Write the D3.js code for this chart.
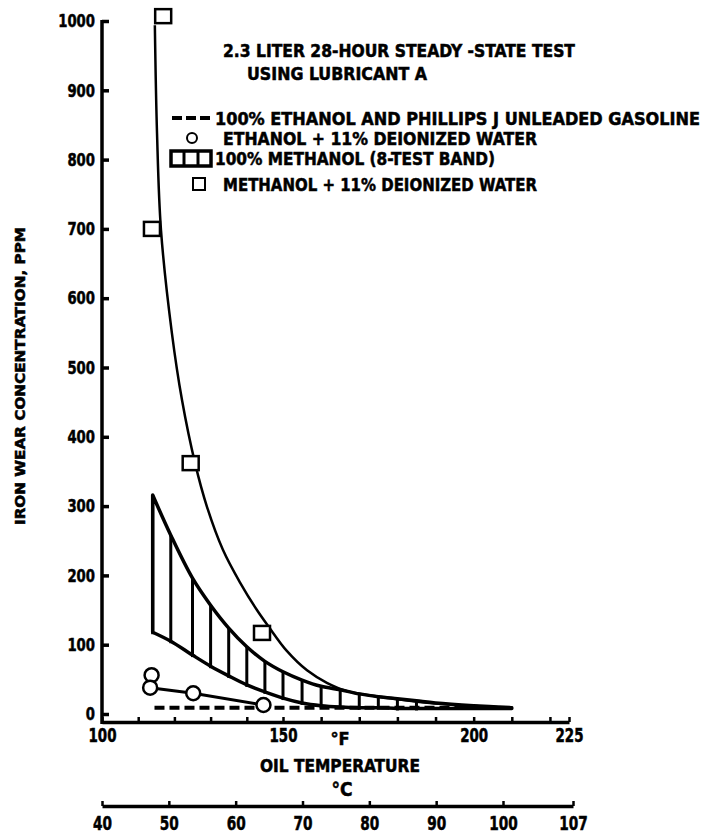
<!DOCTYPE html>
<html>
<head>
<meta charset="utf-8">
<script src="https://cdn.jsdelivr.net/npm/d3@7"></script>
<style>
  body { margin: 0; background: #fff; }
  svg text { font-family: "Liberation Sans Narrow", "DejaVu Sans Condensed", "Liberation Sans", sans-serif; font-weight: bold; fill: #000; stroke: #000; stroke-width: 0.5px; }
</style>
</head>
<body>
<div id="chart"></div>
<script>
// ticks
const yTicks = [0, 100, 200, 300, 400, 500, 600, 700, 800, 900, 1000];
const fTicks = [100, 110, 120, 130, 140, 150, 160, 170, 180, 190, 200, 210, 220, 225];
const fLabels = [100, 150, 200, 225];
const cTicks = [40, 50, 60, 70, 80, 90, 100, 107];

// methanol + 11% deionized water: measured points and the faired curve
const methWaterF = [116.9, 113.8, 124.5, 144.2];
const methWaterV = [1007, 700, 362, 117];
const methCurveF = [114.6, 115.2, 116.3, 119.3, 122.1, 125.7, 129, 133.4, 138.1, 142.8, 145.9, 151, 156.3, 161.5, 166.8, 175.4, 188.5, 210.3];
const methCurveV = [994, 838, 698, 550, 453, 362, 299, 237, 190, 150, 127, 91, 63, 45, 33, 25, 16, 9];

// 100% methanol 8-test band
const bandF = [114, 119, 125, 130, 135, 140, 145, 150, 155, 160, 165, 170, 175, 180, 185, 190, 200, 210];
const bandHigh = [316, 258, 196, 157, 124, 97, 76, 61, 49, 40, 35, 29, 25, 22, 19, 16, 12, 9];
const bandLow = [118, 105, 85, 69, 55, 42, 32, 23, 16, 12, 10, 9, 9, 8, 8, 8, 8, 8];

// ethanol + 11% deionized water
const ethWaterF = [113.7, 113.3, 125.2, 144.6];
const ethWaterV = [56, 38, 30, 13];

// 100% ethanol and Phillips J unleaded gasoline
const ethanolF = [114.5, 150, 180, 210];
const ethanolV = [9, 9, 9, 9];

const width = 704, height = 835;
const svg = d3.select("#chart").append("svg")
  .attr("width", width)
  .attr("height", height);
svg.append("rect").attr("width", width).attr("height", height).attr("fill", "#fff");

const x = d3.scaleLinear().domain([100, 150, 225]).range([102, 283, 569]);
const xC = d3.scaleLinear().domain([40, 100, 107]).range([102, 503, 573]);
const y = d3.scaleLinear().domain([0, 1000]).range([714, 21]);
const axisY = 722;

// Y axis
const gy = svg.append("g")
  .attr("transform", `translate(102,0)`)
  .call(d3.axisLeft(y).tickValues(yTicks).tickFormat(d3.format("d"))
    .tickSizeInner(-7).tickSizeOuter(0).tickPadding(7));
gy.select(".domain").remove();
gy.selectAll("line").attr("stroke", "#000").attr("stroke-width", 3.5);
gy.selectAll("text")
  .style("font-size", "18px")
  .attr("textLength", d => String(d).length * 9.2)
  .attr("lengthAdjust", "spacingAndGlyphs");
svg.append("line")
  .attr("x1", 102).attr("x2", 102)
  .attr("y1", y(1000) - 1).attr("y2", axisY + 2)
  .attr("stroke", "#000").attr("stroke-width", 3.5);

svg.append("text")
  .attr("transform", `translate(25,376) rotate(-90)`)
  .attr("text-anchor", "middle")
  .style("font-size", "14px")
  .attr("textLength", 298)
  .attr("lengthAdjust", "spacingAndGlyphs")
  .text("IRON WEAR CONCENTRATION, PPM");

// °F axis
const gx = svg.append("g")
  .attr("transform", `translate(0,${axisY})`)
  .call(d3.axisBottom(x).tickValues(fTicks).tickSizeInner(-5).tickSizeOuter(0).tickPadding(7)
    .tickFormat(d => fLabels.includes(d) ? d : ""));
gx.select(".domain").attr("stroke", "#000").attr("stroke-width", 3.5);
gx.selectAll("line").attr("stroke", "#000").attr("stroke-width", 2.5);
gx.selectAll("text")
  .style("font-size", "19px")
  .attr("textLength", d => fLabels.includes(d) ? 28 : null)
  .attr("lengthAdjust", "spacingAndGlyphs");

svg.append("text").attr("x", 340).attr("y", 745).attr("text-anchor", "middle")
  .style("font-size", "18px").text("°F");
svg.append("text").attr("x", 340).attr("y", 772).attr("text-anchor", "middle")
  .style("font-size", "18px")
  .attr("textLength", 160).attr("lengthAdjust", "spacingAndGlyphs")
  .text("OIL TEMPERATURE");
svg.append("text").attr("x", 342).attr("y", 796).attr("text-anchor", "middle")
  .style("font-size", "19px").text("°C");

// °C axis
const gc = svg.append("g")
  .attr("transform", `translate(0,806)`)
  .call(d3.axisBottom(xC).tickValues(cTicks).tickSizeInner(-5).tickSizeOuter(0).tickPadding(11));
gc.select(".domain").attr("stroke", "#000").attr("stroke-width", 3.5);
gc.selectAll("line").attr("stroke", "#000").attr("stroke-width", 2.5);
gc.selectAll("text")
  .style("font-size", "19px")
  .attr("textLength", d => String(d).length * 9.5)
  .attr("lengthAdjust", "spacingAndGlyphs");

// methanol band
const band = bandF.map((f, i) => ({ f, lo: bandLow[i], hi: bandHigh[i] }));
svg.append("path")
  .datum(band)
  .attr("fill", "none")
  .attr("stroke", "#000")
  .attr("stroke-width", 3.5)
  .attr("stroke-linejoin", "round")
  .attr("d", d3.area().x(d => x(d.f)).y0(d => y(d.lo)).y1(d => y(d.hi)).curve(d3.curveCatmullRom));

svg.selectAll("line.hatch")
  .data(band.filter(d => d.f <= 185))
  .enter().append("line")
  .attr("class", "hatch")
  .attr("x1", d => x(d.f)).attr("x2", d => x(d.f))
  .attr("y1", d => y(d.lo) + 2).attr("y2", d => y(d.hi))
  .attr("stroke", "#000").attr("stroke-width", 3);

// ethanol + gasoline dashed
svg.append("path")
  .datum(ethanolF.map((f, i) => [f, ethanolV[i]]))
  .attr("fill", "none")
  .attr("stroke", "#000")
  .attr("stroke-width", 4)
  .attr("stroke-dasharray", "10,5")
  .attr("d", d3.line().x(d => x(d[0])).y(d => y(d[1])));

// methanol + water curve
svg.append("path")
  .datum(methCurveF.map((f, i) => [f, methCurveV[i]]))
  .attr("fill", "none")
  .attr("stroke", "#000")
  .attr("stroke-width", 2.5)
  .attr("d", d3.line().x(d => x(d[0])).y(d => y(d[1])).curve(d3.curveCatmullRom));

// ethanol + water line and circles
const eth = ethWaterF.map((f, i) => [f, ethWaterV[i]]);
svg.append("path")
  .datum(eth.slice(1))
  .attr("fill", "none")
  .attr("stroke", "#000")
  .attr("stroke-width", 3)
  .attr("d", d3.line().x(d => x(d[0])).y(d => y(d[1])));
svg.selectAll("circle.eth")
  .data(eth)
  .enter().append("circle")
  .attr("class", "eth")
  .attr("cx", d => x(d[0])).attr("cy", d => y(d[1]))
  .attr("r", 7)
  .attr("fill", "#fff").attr("stroke", "#000").attr("stroke-width", 2.5);

// methanol + water squares
svg.selectAll("rect.meth")
  .data(methWaterF.map((f, i) => [f, methWaterV[i]]))
  .enter().append("rect")
  .attr("class", "meth")
  .attr("x", d => x(d[0]) - 8).attr("y", d => y(d[1]) - 7)
  .attr("width", 16).attr("height", 14)
  .attr("fill", "#fff").attr("stroke", "#000").attr("stroke-width", 2.5);

// title and legend
const lg = svg.append("g");
lg.append("text").attr("x", 223).attr("y", 57).style("font-size", "18px")
  .attr("textLength", 352).attr("lengthAdjust", "spacingAndGlyphs")
  .text("2.3 LITER 28-HOUR STEADY -STATE TEST");
lg.append("text").attr("x", 247).attr("y", 80).style("font-size", "18px")
  .attr("textLength", 180).attr("lengthAdjust", "spacingAndGlyphs")
  .text("USING LUBRICANT A");

const rows = [
  { y: 118, x: 215, w: 485, t: "100% ETHANOL AND PHILLIPS J UNLEADED GASOLINE" },
  { y: 138, x: 223, w: 314, t: "ETHANOL + 11% DEIONIZED WATER" },
  { y: 158, x: 215, w: 280, t: "100% METHANOL (8-TEST BAND)" },
  { y: 184, x: 223, w: 314, t: "METHANOL + 11% DEIONIZED WATER" }
];
rows.forEach(r => {
  lg.append("text").attr("x", r.x).attr("y", r.y + 7).style("font-size", "18px")
    .attr("textLength", r.w).attr("lengthAdjust", "spacingAndGlyphs").text(r.t);
});
lg.append("line").attr("x1", 172).attr("x2", 210).attr("y1", 118).attr("y2", 118)
  .attr("stroke", "#000").attr("stroke-width", 4).attr("stroke-dasharray", "10,4");
lg.append("circle").attr("cx", 192).attr("cy", 138).attr("r", 5)
  .attr("fill", "#fff").attr("stroke", "#000").attr("stroke-width", 2);
lg.append("rect").attr("x", 171).attr("y", 151).attr("width", 40).attr("height", 15)
  .attr("fill", "#fff").attr("stroke", "#000").attr("stroke-width", 3.5);
[184, 198].forEach(hx => {
  lg.append("line").attr("x1", hx).attr("x2", hx).attr("y1", 151).attr("y2", 166)
    .attr("stroke", "#000").attr("stroke-width", 3);
});
lg.append("rect").attr("x", 193).attr("y", 178).attr("width", 12).attr("height", 12)
  .attr("fill", "#fff").attr("stroke", "#000").attr("stroke-width", 2);
</script>
</body>
</html>
